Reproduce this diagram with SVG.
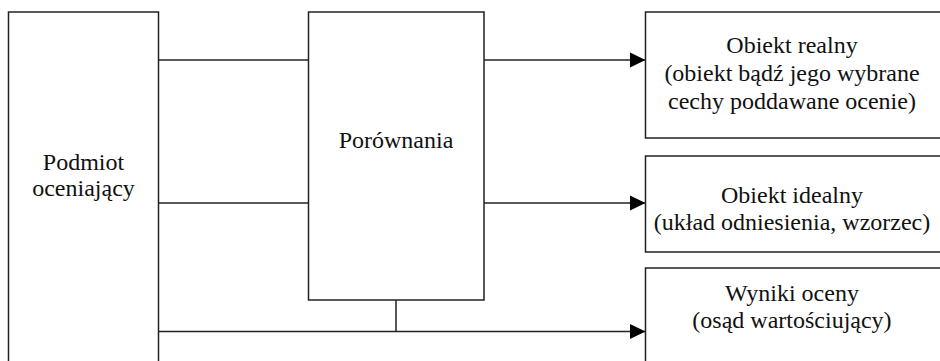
<svg xmlns="http://www.w3.org/2000/svg" width="940" height="361" viewBox="0 0 940 361">
<style>
.box{fill:#fff;stroke:#222;stroke-width:1.5}
.ln{fill:none;stroke:#222;stroke-width:1.5}
.t{font-family:'Liberation Serif','Times New Roman','DejaVu Serif',serif;font-size:24px;fill:#111;text-anchor:middle}
</style>
<defs>
<marker id="arr" markerUnits="userSpaceOnUse" markerWidth="16" markerHeight="16" refX="15.5" refY="8" orient="auto">
<path d="M0,0.5 L15.5,8 L0,15.5 Z" fill="#000"/>
</marker>
</defs>
<rect width="940" height="361" fill="#fff"/>
<g id="connectors">
<path class="ln" d="M158.5,60 H308.5"/>
<path class="ln" d="M158.5,203 H308.5"/>
<path class="ln" d="M484,60 H645.5" marker-end="url(#arr)"/>
<path class="ln" d="M484,203 H645.5" marker-end="url(#arr)"/>
<path class="ln" d="M158.5,331.5 H645.5" marker-end="url(#arr)"/>
<path class="ln" d="M396,300 V331.5"/>
</g>
<g id="podmiot" class="t" font-family="Liberation Serif, serif">
<rect class="box" x="8.5" y="12" width="150" height="360"/>
<text x="83.5" y="170">Podmiot</text>
<text x="83.5" y="196">oceniający</text>
</g>
<g id="porownania" class="t" font-family="Liberation Serif, serif">
<rect class="box" x="308.5" y="12" width="175.5" height="288"/>
<text x="396" y="148">Porównania</text>
</g>
<g id="obiekt-realny" class="t" font-family="Liberation Serif, serif">
<rect class="box" x="645.5" y="12" width="300" height="126"/>
<text x="792" y="53">Obiekt realny</text>
<text x="792" y="81">(obiekt bądź jego wybrane</text>
<text x="792" y="109">cechy poddawane ocenie)</text>
</g>
<g id="obiekt-idealny" class="t" font-family="Liberation Serif, serif">
<rect class="box" x="645.5" y="156" width="300" height="96"/>
<text x="792" y="203">Obiekt idealny</text>
<text x="792" y="230">(układ odniesienia, wzorzec)</text>
</g>
<g id="wyniki" class="t" font-family="Liberation Serif, serif">
<rect class="box" x="645.5" y="268" width="300" height="110"/>
<text x="792" y="301">Wyniki oceny</text>
<text x="792" y="328">(osąd wartościujący)</text>
</g>
</svg>
